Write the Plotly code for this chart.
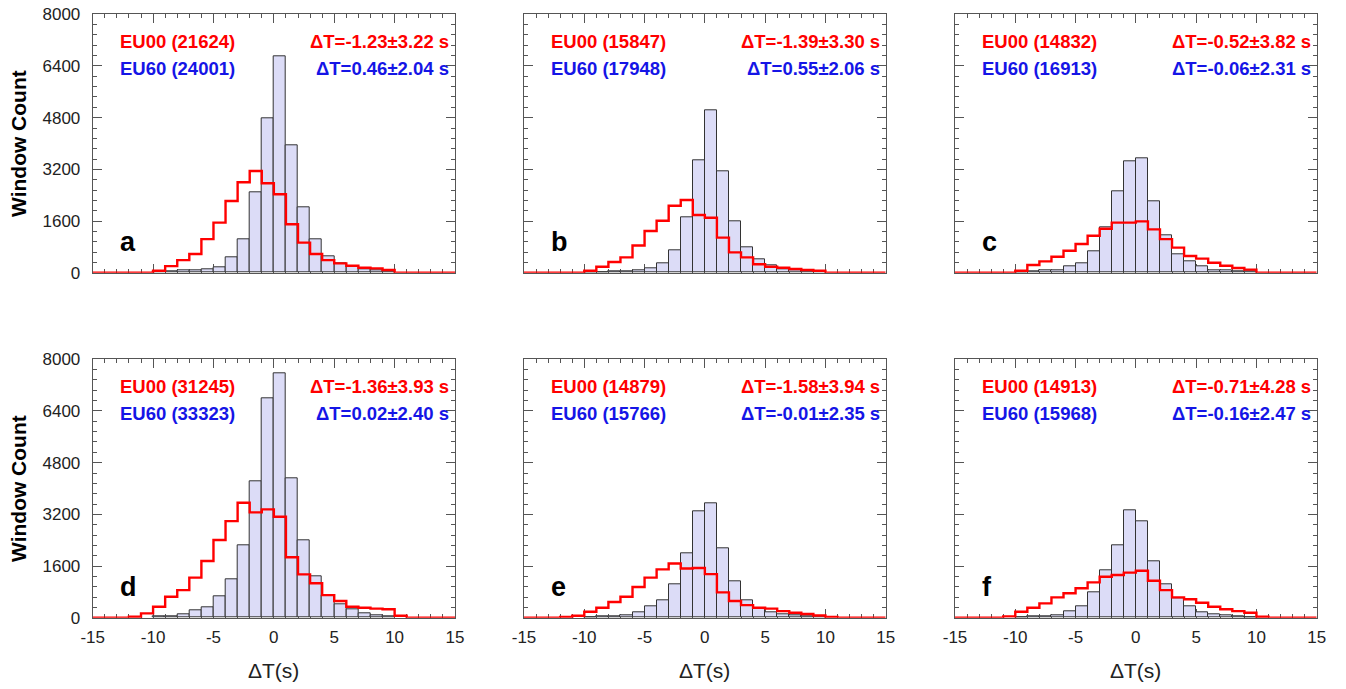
import plotly.graph_objects as go

# Bin edges: -15 .. 15 in 1 s steps (30 bins)
bin_edges = list(range(-15, 16))

panel_letters = ["a", "b", "c", "d", "e", "f"]

# EU60 (blue filled histogram) counts per bin
eu60_a = [0,0,0,0,0, 30,30,60,80,100, 165,465,1040,2490,4790, 6710,3930,2040,1030,495, 290,185,100,80,50, 0,0,0,0,0]
eu60_b = [0,0,0,0,0, 10,20,30,40,60, 125,290,680,1730,3490, 5040,3130,1600,775,425, 240,105,70,50,30, 0,0,0,0,0]
eu60_c = [0,0,0,0,0, 20,40,60,80,185, 290,650,1395,2510,3440, 3550,2220,1165,570,360, 185,80,60,50,30, 0,0,0,0,0]
eu60_d = [0,0,0,0,0, 30,50,95,215,330, 670,1175,2230,4220,6790, 7555,4315,2395,1290,700, 410,260,135,70,40, 0,0,0,0,0]
eu60_e = [0,0,0,0,0, 20,30,50,85,175, 340,545,1040,1990,3280, 3540,2145,1115,545,280, 155,95,70,50,30, 0,0,0,0,0]
eu60_f = [0,0,0,0,0, 10,30,40,85,185, 350,775,1475,2250,3335, 2970,1735,1030,600,340, 155,105,70,40,20, 0,0,0,0,0]

# EU00 (red step histogram) counts per bin
eu00_a = [0,0,0,0,0, 60,205,390,580,1040, 1550,2220,2800,3150,2770, 2430,1500,930,580,390, 290,215,155,135,85, 0,0,0,0,0]
eu00_b = [0,0,0,0,0, 60,185,330,475,840, 1290,1610,2075,2250,1785, 1700,1085,630,475,260, 185,155,115,85,60, 0,0,0,0,0]
eu00_c = [0,0,0,0,0, 60,240,350,495,680, 890,1145,1360,1550,1550, 1590,1340,1040,775,515, 435,310,215,145,95, 0,0,0,0,0]
eu00_d = [0,0,0,30,135, 340,650,855,1240,1755, 2405,2990,3560,3260,3355, 3125,1870,1340,1065,700, 515,340,310,280,260, 60,0,0,0,0]
eu00_e = [0,0,0,20,60, 185,310,485,650,950, 1240,1495,1680,1525,1540, 1350,785,515,390,310, 280,205,155,115,70, 20,0,0,0,0]
eu00_f = [0,0,0,0,40, 185,310,445,630,755, 910,1095,1270,1320,1395, 1455,1145,855,630,570, 465,340,260,205,155, 30,0,0,0,0]

# Legend texts
eu00_labels = ["EU00 (21624)", "EU00 (15847)", "EU00 (14832)", "EU00 (31245)", "EU00 (14879)", "EU00 (14913)"]
eu60_labels = ["EU60 (24001)", "EU60 (17948)", "EU60 (16913)", "EU60 (33323)", "EU60 (15766)", "EU60 (15968)"]
eu00_stats = ["ΔT=-1.23±3.22 s", "ΔT=-1.39±3.30 s", "ΔT=-0.52±3.82 s", "ΔT=-1.36±3.93 s", "ΔT=-1.58±3.94 s", "ΔT=-0.71±4.28 s"]
eu60_stats = ["ΔT=0.46±2.04 s", "ΔT=0.55±2.06 s", "ΔT=-0.06±2.31 s", "ΔT=0.02±2.40 s", "ΔT=-0.01±2.35 s", "ΔT=-0.16±2.47 s"]

x_tick_vals = [-15, -10, -5, 0, 5, 10, 15]
x_tick_text = ["-15", "-10", "-5", "0", "5", "10", "15"]
y_tick_vals = [0, 1600, 3200, 4800, 6400, 8000]
y_tick_text = ["0", "1600", "3200", "4800", "6400", "8000"]

eu60_all = [eu60_a, eu60_b, eu60_c, eu60_d, eu60_e, eu60_f]
eu00_all = [eu00_a, eu00_b, eu00_c, eu00_d, eu00_e, eu00_f]

W, H = 1346, 689
col_px = [(92.7, 455.0), (524.0, 885.7), (955.0, 1316.7)]
row_px = [(14.3, 272.7), (359.3, 617.7)]

FONT = "Liberation Sans, Arial, Helvetica, sans-serif"
RED = "#ff0000"
BLUE = "#1515e6"
FRAME = "#555555"

fig = go.Figure()
layout = dict(
    width=W, height=H,
    margin=dict(l=0, r=0, t=0, b=0, pad=0, autoexpand=False),
    paper_bgcolor="white", plot_bgcolor="white",
    showlegend=False,
    font=dict(family=FONT, size=17, color="#222222"),
    bargap=0,
)
annotations = []

centers = [(bin_edges[i] + bin_edges[i + 1]) / 2 for i in range(len(bin_edges) - 1)]

for k in range(6):
    r, c = divmod(k, 3)
    sfx = "" if k == 0 else str(k + 1)
    xa, ya = "x" + sfx, "y" + sfx
    blue = eu60_all[k]
    red = eu00_all[k]
    bx = [centers[i] for i in range(len(blue)) if blue[i] > 0]
    by = [blue[i] for i in range(len(blue)) if blue[i] > 0]
    fig.add_trace(go.Bar(
        x=bx, y=by, width=1, xaxis=xa, yaxis=ya,
        marker=dict(color="#dcdcf7", line=dict(color="#333333", width=1)),
        hoverinfo="skip",
    ))
    fig.add_trace(go.Scatter(
        x=bin_edges, y=red + [red[-1]], xaxis=xa, yaxis=ya,
        mode="lines", line=dict(shape="hv", color=RED, width=2.4),
        cliponaxis=False, hoverinfo="skip",
    ))
    x0, x1 = col_px[c]
    y0, y1 = row_px[r]
    layout["xaxis" + sfx] = dict(
        domain=[x0 / W, x1 / W], anchor=ya, range=[-15, 15], automargin=False,
        tickmode="array", tickvals=x_tick_vals, ticktext=x_tick_text,
        showticklabels=(r == 1), ticks="inside", ticklen=9, tickwidth=1, tickcolor=FRAME,
        minor=dict(tickmode="array", tickvals=list(range(-15, 16)), ticks="inside",
                   ticklen=4, tickwidth=1, tickcolor=FRAME),
        showline=True, linecolor=FRAME, linewidth=1, mirror="ticks",
        showgrid=False, zeroline=False, layer="below traces",
        tickfont=dict(size=17, color="#222222"), ticklabelstandoff=4,
        fixedrange=True,
    )
    layout["yaxis" + sfx] = dict(
        domain=[1 - y1 / H, 1 - y0 / H], anchor=xa, range=[0, 8000], automargin=False,
        tickmode="array", tickvals=y_tick_vals, ticktext=y_tick_text,
        showticklabels=(c == 0), ticks="inside", ticklen=9, tickwidth=1, tickcolor=FRAME,
        minor=dict(tickmode="linear", tick0=0, dtick=320, ticks="inside",
                   ticklen=4, tickwidth=1, tickcolor=FRAME),
        showline=True, linecolor=FRAME, linewidth=1, mirror="ticks",
        showgrid=False, zeroline=False, layer="below traces",
        tickfont=dict(size=17, color="#222222"), ticklabelstandoff=8,
        fixedrange=True,
    )
    # panel letter
    annotations.append(dict(x=-12.9, y=960, xref=xa, yref=ya, text="<b>%s</b>" % panel_letters[k],
                            showarrow=False, xanchor="left", yanchor="middle",
                            font=dict(size=27, color="black", family=FONT)))
    annotations.append(dict(x=-12.9, y=7150, xref=xa, yref=ya, text="<b>%s</b>" % eu00_labels[k],
                            showarrow=False, xanchor="left", yanchor="middle",
                            font=dict(size=18.5, color=RED, family=FONT)))
    annotations.append(dict(x=-12.9, y=6320, xref=xa, yref=ya, text="<b>%s</b>" % eu60_labels[k],
                            showarrow=False, xanchor="left", yanchor="middle",
                            font=dict(size=18.5, color=BLUE, family=FONT)))
    annotations.append(dict(x=14.7, y=7150, xref=xa, yref=ya, text="<b>%s</b>" % eu00_stats[k],
                            showarrow=False, xanchor="right", yanchor="middle",
                            font=dict(size=18.5, color=RED, family=FONT)))
    annotations.append(dict(x=14.7, y=6320, xref=xa, yref=ya, text="<b>%s</b>" % eu60_stats[k],
                            showarrow=False, xanchor="right", yanchor="middle",
                            font=dict(size=18.5, color=BLUE, family=FONT)))

# axis titles
for (ya0, ya1) in row_px:
    annotations.append(dict(x=18.5 / W, y=1 - ((ya0 + ya1) / 2) / H, xref="paper", yref="paper",
                            text="<b>Window Count</b>", textangle=-90, showarrow=False,
                            xanchor="center", yanchor="middle",
                            font=dict(size=21, color="black", family=FONT)))
for (xa0, xa1) in col_px:
    annotations.append(dict(x=((xa0 + xa1) / 2) / W, y=1 - 670 / H, xref="paper", yref="paper",
                            text="ΔT(s)", showarrow=False, xanchor="center", yanchor="middle",
                            font=dict(size=21, color="#222222", family=FONT)))

layout["annotations"] = annotations
fig.update_layout(**layout)
fig.write_html("out.html", config={"displayModeBar": False},
               post_script="document.body.style.margin='0';document.body.style.overflow='hidden';")
